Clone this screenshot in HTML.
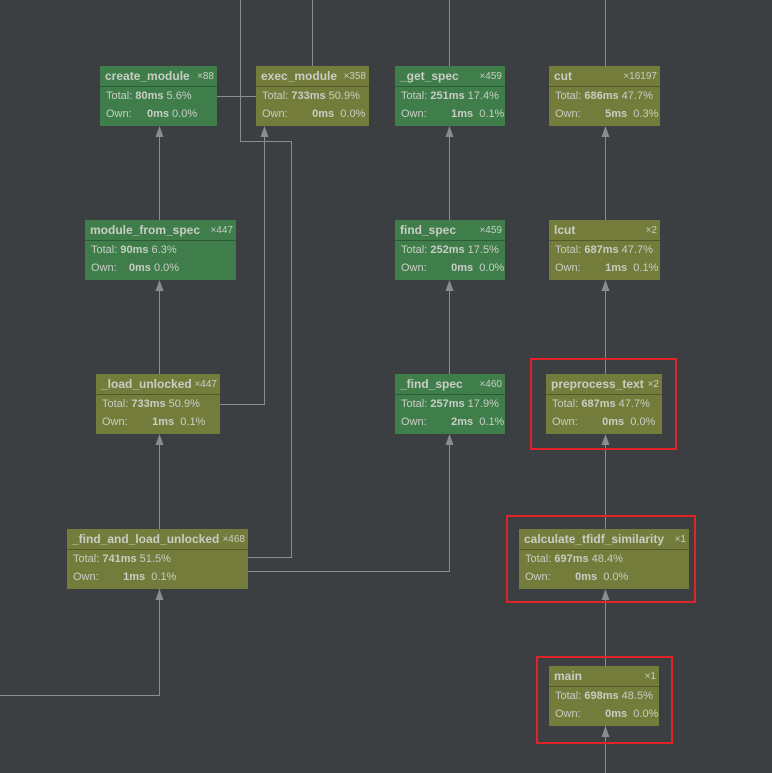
<!DOCTYPE html>
<html><head><meta charset="utf-8"><style>
body{margin:0;width:772px;height:773px;background:#3c3f41;position:relative;overflow:hidden;font-family:"Liberation Sans",sans-serif;}
.n{position:absolute;height:60px;color:#c9cdc4;box-sizing:border-box;}
.g{background:#3f7e4b}.o{background:#737c3b}
.h{height:20px;border-bottom:1px solid rgba(0,0,0,0.28);font-weight:bold;font-size:12px;line-height:20px;padding-left:5px;white-space:nowrap;position:relative}
.h span{position:absolute;right:3px;top:1px;line-height:20px;font-weight:normal;font-size:10px}
.r{font-size:11px;line-height:18px;padding-left:6px;white-space:nowrap}
.r b{display:inline-block;text-align:right}
.red{position:absolute;border:2px solid #e0242a;box-sizing:border-box}
svg{position:absolute;left:0;top:0}
</style></head><body>
<svg width="772" height="773" stroke="#8a8d8f" fill="none" stroke-width="1">
<path d="M159.5 220V128M159.5 374V282M159.5 529V436M159.5 589V695.5H0"/>
<path d="M240.5 0V141.5H291.5V557.5H248M220 404.5H264.5V128M217 96.5H256"/>
<path d="M312.5 0V66M449.5 0V66M605.5 0V66"/>
<path d="M449.5 220V128M449.5 374V282M248 571.5H449.5V436"/>
<path d="M605.5 220V128M605.5 374V282M605.5 529V436M605.5 666V591M605.5 726V773"/>
<g fill="#8a8d8f" stroke="none">
<path d="M159.5 126l-4 11h8z"/><path d="M159.5 280l-4 11h8z"/><path d="M159.5 434l-4 11h8z"/><path d="M159.5 589l-4 11h8z"/>
<path d="M264.5 126l-4 11h8z"/>
<path d="M449.5 126l-4 11h8z"/><path d="M449.5 280l-4 11h8z"/><path d="M449.5 434l-4 11h8z"/>
<path d="M605.5 126l-4 11h8z"/><path d="M605.5 280l-4 11h8z"/><path d="M605.5 434l-4 11h8z"/><path d="M605.5 589l-4 11h8z"/><path d="M605.5 726l-4 11h8z"/>
</g></svg>

<div class="n g" style="left:100px;top:66px;width:117px"><div class="h">create_module <span>×88</span></div><div class="r">Total: <b>80ms</b> 5.6%</div><div class="r">Own: &nbsp;&nbsp;&nbsp;&nbsp;<b>0ms</b> 0.0%</div></div>
<div class="n o" style="left:256px;top:66px;width:113px"><div class="h">exec_module <span>×358</span></div><div class="r">Total: <b>733ms</b> 50.9%</div><div class="r">Own: &nbsp;&nbsp;&nbsp;&nbsp;&nbsp;&nbsp;&nbsp;<b>0ms</b> &nbsp;0.0%</div></div>
<div class="n g" style="left:395px;top:66px;width:110px"><div class="h">_get_spec <span>×459</span></div><div class="r">Total: <b>251ms</b> 17.4%</div><div class="r">Own: &nbsp;&nbsp;&nbsp;&nbsp;&nbsp;&nbsp;&nbsp;<b>1ms</b> &nbsp;0.1%</div></div>
<div class="n o" style="left:549px;top:66px;width:111px"><div class="h">cut <span>×16197</span></div><div class="r">Total: <b>686ms</b> 47.7%</div><div class="r">Own: &nbsp;&nbsp;&nbsp;&nbsp;&nbsp;&nbsp;&nbsp;<b>5ms</b> &nbsp;0.3%</div></div>

<div class="n g" style="left:85px;top:220px;width:151px"><div class="h">module_from_spec <span>×447</span></div><div class="r">Total: <b>90ms</b> 6.3%</div><div class="r">Own: &nbsp;&nbsp;&nbsp;<b>0ms</b> 0.0%</div></div>
<div class="n g" style="left:395px;top:220px;width:110px"><div class="h">find_spec <span>×459</span></div><div class="r">Total: <b>252ms</b> 17.5%</div><div class="r">Own: &nbsp;&nbsp;&nbsp;&nbsp;&nbsp;&nbsp;&nbsp;<b>0ms</b> &nbsp;0.0%</div></div>
<div class="n o" style="left:549px;top:220px;width:111px"><div class="h">lcut <span>×2</span></div><div class="r">Total: <b>687ms</b> 47.7%</div><div class="r">Own: &nbsp;&nbsp;&nbsp;&nbsp;&nbsp;&nbsp;&nbsp;<b>1ms</b> &nbsp;0.1%</div></div>

<div class="n o" style="left:96px;top:374px;width:124px"><div class="h">_load_unlocked <span>×447</span></div><div class="r">Total: <b>733ms</b> 50.9%</div><div class="r">Own: &nbsp;&nbsp;&nbsp;&nbsp;&nbsp;&nbsp;&nbsp;<b>1ms</b> &nbsp;0.1%</div></div>
<div class="n g" style="left:395px;top:374px;width:110px"><div class="h">_find_spec <span>×460</span></div><div class="r">Total: <b>257ms</b> 17.9%</div><div class="r">Own: &nbsp;&nbsp;&nbsp;&nbsp;&nbsp;&nbsp;&nbsp;<b>2ms</b> &nbsp;0.1%</div></div>
<div class="n o" style="left:546px;top:374px;width:116px"><div class="h">preprocess_text <span>×2</span></div><div class="r">Total: <b>687ms</b> 47.7%</div><div class="r">Own: &nbsp;&nbsp;&nbsp;&nbsp;&nbsp;&nbsp;&nbsp;<b>0ms</b> &nbsp;0.0%</div></div>

<div class="n o" style="left:67px;top:529px;width:181px"><div class="h">_find_and_load_unlocked <span>×468</span></div><div class="r">Total: <b>741ms</b> 51.5%</div><div class="r">Own: &nbsp;&nbsp;&nbsp;&nbsp;&nbsp;&nbsp;&nbsp;<b>1ms</b> &nbsp;0.1%</div></div>
<div class="n o" style="left:519px;top:529px;width:170px"><div class="h">calculate_tfidf_similarity <span>×1</span></div><div class="r">Total: <b>697ms</b> 48.4%</div><div class="r">Own: &nbsp;&nbsp;&nbsp;&nbsp;&nbsp;&nbsp;&nbsp;<b>0ms</b> &nbsp;0.0%</div></div>

<div class="n o" style="left:549px;top:666px;width:110px"><div class="h">main <span>×1</span></div><div class="r">Total: <b>698ms</b> 48.5%</div><div class="r">Own: &nbsp;&nbsp;&nbsp;&nbsp;&nbsp;&nbsp;&nbsp;<b>0ms</b> &nbsp;0.0%</div></div>

<div class="red" style="left:530px;top:358px;width:147px;height:92px"></div>
<div class="red" style="left:506px;top:515px;width:190px;height:88px"></div>
<div class="red" style="left:536px;top:656px;width:137px;height:88px"></div>
</body></html>
